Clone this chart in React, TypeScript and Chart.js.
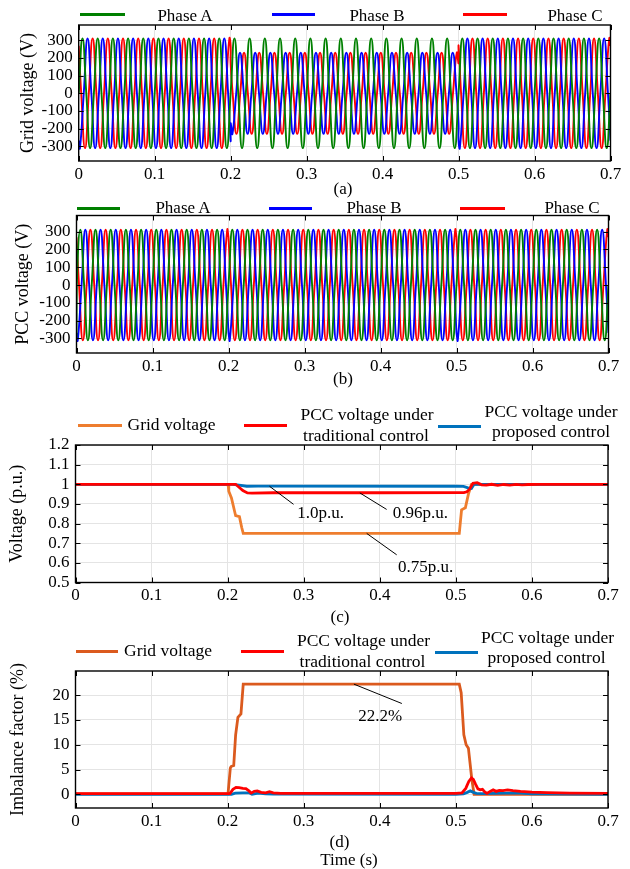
import React, { useEffect, useRef } from "react";
import { Chart, registerables } from "chart.js";
Chart.register(...registerables);

const FONT = '"Liberation Serif", "Times New Roman", Times, serif';

// ---------------- DATA ----------------
const timeTicks = [0, 0.1, 0.2, 0.3, 0.4, 0.5, 0.6, 0.7];
const voltageTicks = [-300, -200, -100, 0, 100, 200, 300];
const puTicks = [0.5, 0.6, 0.7, 0.8, 0.9, 1, 1.1, 1.2];
const imbalanceTicks = [0, 5, 10, 15, 20];

const phaseNames = ["Phase A", "Phase B", "Phase C"];

// waveforms: 50 Hz, three time segments (normal / sag / normal)
const fundamentalHz = 50;
const segmentBounds = [0, 0.2, 0.5, 0.7];
// grid voltage: peak (V), phase angle (deg) per segment, value at segment edges (V)
const gridPeakA = [311, 311, 311];
const gridPeakB = [311, 230, 311];
const gridPeakC = [311, 230, 311];
const gridAngleA = [0, 0, 0];
const gridAngleB = [-120, -132, -120];
const gridAngleC = [120, 132, 120];
const gridEdgeA = [0, 0, 0];
const gridEdgeB = [-269, -170, -269];
const gridEdgeC = [269, 170, 269];
// PCC voltage
const pccPeakA = [311, 311, 311];
const pccPeakB = [311, 311, 311];
const pccPeakC = [311, 311, 311];
const pccAngleA = [0, 0, 0];
const pccAngleB = [-120, -120, -120];
const pccAngleC = [120, 120, 120];
const pccEdgeA = [0, 0, 0];
const pccEdgeB = [-269, -269, -269];
const pccEdgeC = [269, 269, 269];
const pccStartA = -305; // start-up transient of phase A at t = 0

// (c) voltage (p.u.)
const gridPuT = [0, 0.2005, 0.2015, 0.205, 0.2105, 0.2155, 0.2185, 0.2205, 0.5045, 0.5075, 0.5125, 0.5165, 0.5205, 0.7];
const gridPuV = [1, 1, 0.965, 0.93, 0.84, 0.835, 0.78, 0.75, 0.75, 0.87, 0.88, 0.95, 1, 1];
const tradPuT = [0, 0.2105, 0.215, 0.22, 0.226, 0.232, 0.26, 0.4, 0.5105, 0.5145, 0.518, 0.5225, 0.528, 0.534, 0.54, 0.547, 0.555, 0.563, 0.571, 0.579, 0.587, 0.595, 0.61, 0.7];
const tradPuV = [1, 1, 0.985, 0.968, 0.956, 0.955, 0.957, 0.957, 0.958, 0.962, 0.975, 1.005, 1.008, 0.997, 0.996, 1.0, 0.995, 0.999, 0.996, 1.0, 0.997, 0.999, 1.0, 1.0];
const propPuT = [0, 0.207, 0.215, 0.225, 0.24, 0.5, 0.51, 0.516, 0.5205, 0.524, 0.53, 0.7];
const propPuV = [1, 1, 0.996, 0.99, 0.991, 0.99, 0.989, 0.982, 0.979, 1.0, 1.0, 1.0];

// (d) imbalance factor (%)
const gridUfT = [0, 0.2005, 0.2035, 0.2045, 0.208, 0.2105, 0.2135, 0.2175, 0.2205, 0.5045, 0.507, 0.5105, 0.5135, 0.5165, 0.521, 0.524, 0.7];
const gridUfV = [0.1, 0.1, 5.3, 5.6, 5.8, 12, 15.5, 16.2, 22.2, 22.2, 20.5, 12, 10, 9.3, 3, 0, 0];
const tradUfT = [0, 0.203, 0.207, 0.211, 0.215, 0.22, 0.224, 0.228, 0.231, 0.235, 0.239, 0.244, 0.25, 0.255, 0.26, 0.27, 0.5, 0.508, 0.513, 0.517, 0.5205, 0.523, 0.526, 0.529, 0.532, 0.535, 0.538, 0.541, 0.545, 0.549, 0.553, 0.557, 0.562, 0.568, 0.575, 0.585, 0.6, 0.62, 0.65, 0.7];
const tradUfV = [0.15, 0.15, 1.0, 1.4, 1.35, 1.2, 1.15, 0.7, 0.25, 0.6, 0.7, 0.4, 0.3, 0.55, 0.3, 0.2, 0.2, 0.3, 1.2, 2.6, 3.3, 3.0, 2.0, 1.1, 0.9, 1.0, 0.5, 0.2, 0.6, 0.9, 0.6, 0.8, 0.75, 0.9, 0.75, 0.6, 0.45, 0.35, 0.25, 0.2];
const propUfT = [0, 0.205, 0.21, 0.22, 0.228, 0.232, 0.24, 0.25, 0.26, 0.5, 0.51, 0.515, 0.519, 0.523, 0.527, 0.535, 0.55, 0.58, 0.6, 0.65, 0.7];
const propUfV = [0, 0, 0.25, 0.3, 0.3, 0, 0.25, 0.1, 0.05, 0, 0.1, 0.4, 0.7, 0.4, 0.2, 0.15, 0.2, 0.3, 0.1, 0.05, 0];

// ---------------- helpers ----------------
const GREEN = "#008000";
const BLUE = "#0000FF";
const RED = "#FF0000";
const ORANGE_C = "#EE7D2E";
const ORANGE_D = "#DB5A1E";
const MBLUE = "#0072BD";
const GRID = "#e4e4e4";

// peaks and zero crossings of each phase (quarter-cycle points), drawn as a smooth curve
function buildPhase(peaks: number[], angles: number[], edges: number[], lead?: number) {
  const pts: { x: number; y: number }[] = [];
  const degPerSec = 360 * fundamentalHz;
  const pattern = [0, 1, 0, -1];
  for (let i = 0; i < segmentBounds.length - 1; i++) {
    const t0 = segmentBounds[i];
    const t1 = segmentBounds[i + 1];
    if (i === 0 && lead !== undefined) {
      pts.push({ x: t0, y: lead });
      pts.push({ x: t0 + 0.0004, y: edges[i] });
    } else {
      pts.push({ x: i === 0 ? t0 : t0 + 1e-6, y: edges[i] });
    }
    const kStart = Math.ceil((t0 * degPerSec + angles[i]) / 90) - 1;
    for (let k = kStart; ; k++) {
      const t = (90 * k - angles[i]) / degPerSec;
      if (t >= t1 - 1e-6) break;
      if (t <= t0 + 1e-6) continue;
      if (i === 0 && lead !== undefined && t <= t0 + 0.0005) continue;
      pts.push({ x: t, y: peaks[i] * pattern[((k % 4) + 4) % 4] });
    }
    pts.push({ x: t1, y: edges[i] });
  }
  return pts;
}

function zip(t: number[], v: number[]) {
  return t.map((x, i) => ({ x, y: v[i] }));
}

type Annot = { x1: number; y1: number; x2: number; y2: number; text: string; tx: number; ty: number; align: CanvasTextAlign };

function makeBoxPlugin(annots: Annot[]) {
  return {
    id: "boxTicks",
    afterDatasetsDraw(chart: any) {
      const { ctx, chartArea } = chart;
      const { left, right, top, bottom } = chartArea;
      const xs = chart.scales.x;
      const ys = chart.scales.y;
      ctx.save();
      ctx.strokeStyle = "#000";
      ctx.lineWidth = 1.4;
      ctx.strokeRect(left, top, right - left, bottom - top);
      const L = 5;
      ctx.beginPath();
      xs.ticks.forEach((t: any) => {
        const px = Math.round(xs.getPixelForValue(t.value)) + 0.5;
        ctx.moveTo(px, bottom);
        ctx.lineTo(px, bottom - L);
        ctx.moveTo(px, top);
        ctx.lineTo(px, top + L);
      });
      ys.ticks.forEach((t: any) => {
        const py = Math.round(ys.getPixelForValue(t.value)) + 0.5;
        ctx.moveTo(left, py);
        ctx.lineTo(left + L, py);
        ctx.moveTo(right, py);
        ctx.lineTo(right - L, py);
      });
      ctx.lineWidth = 1;
      ctx.stroke();
      annots.forEach((a) => {
        ctx.beginPath();
        ctx.strokeStyle = "#000";
        ctx.lineWidth = 1;
        ctx.moveTo(xs.getPixelForValue(a.x1), ys.getPixelForValue(a.y1));
        ctx.lineTo(xs.getPixelForValue(a.x2), ys.getPixelForValue(a.y2));
        ctx.stroke();
        ctx.fillStyle = "#000";
        ctx.font = `17px ${FONT}`;
        ctx.textAlign = a.align;
        ctx.textBaseline = "middle";
        ctx.fillText(a.text, xs.getPixelForValue(a.tx), ys.getPixelForValue(a.ty));
      });
      ctx.restore();
    },
  };
}

const TOP_PAD = 20;
const XAXIS_H = 30;

type PanelSpec = {
  canvasTop: number;
  canvasH: number;
  plotLeft: number;
  plotRight: number;
  plotTop: number;
  plotBottom: number;
  yMin: number;
  yMax: number;
  yTicks: number[];
  yTitle: string;
  titleCenterX: number;
  datasets: any[];
  annots: Annot[];
};

function makeConfig(p: PanelSpec) {
  const padTop = p.plotTop - p.canvasTop;
  const padBottom = p.canvasTop + p.canvasH - p.plotBottom - XAXIS_H;
  const tickFont = { family: FONT, size: 17 };
  return {
    type: "line",
    data: { datasets: p.datasets },
    options: {
      responsive: false,
      animation: false,
      devicePixelRatio: 1,
      events: [],
      layout: { padding: { left: 0, right: 630 - p.plotRight, top: padTop, bottom: padBottom } },
      plugins: { legend: { display: false }, tooltip: { enabled: false } },
      elements: { point: { radius: 0 } },
      scales: {
        x: {
          type: "linear",
          min: 0,
          max: 0.7,
          afterBuildTicks: (s: any) => {
            s.ticks = timeTicks.map((v) => ({ value: v }));
          },
          afterFit: (s: any) => {
            s.height = XAXIS_H;
          },
          grid: { color: GRID, lineWidth: 1, drawTicks: false },
          border: { display: false },
          ticks: { font: tickFont, color: "#000", padding: 3, maxRotation: 0, autoSkip: false, callback: (v: any) => String(v) },
        },
        y: {
          type: "linear",
          min: p.yMin,
          max: p.yMax,
          afterBuildTicks: (s: any) => {
            s.ticks = p.yTicks.map((v) => ({ value: v }));
          },
          afterFit: (s: any) => {
            s.width = p.plotLeft;
          },
          grid: { color: GRID, lineWidth: 1, drawTicks: false },
          border: { display: false },
          ticks: { font: tickFont, color: "#000", padding: 6, autoSkip: false, callback: (v: any) => String(v) },
          title: {
            display: true,
            text: p.yTitle,
            color: "#000",
            font: { family: FONT, size: 18 },
            padding: { top: p.titleCenterX - 10.8, bottom: 0 },
          },
        },
      },
    },
    plugins: [makeBoxPlugin(p.annots)],
  };
}

function wave(data: any, color: string) {
  return { data, borderColor: color, borderWidth: 1.9, pointRadius: 0, tension: 0.5, fill: false };
}
function trace(data: any, color: string) {
  return { data, borderColor: color, borderWidth: 2.8, pointRadius: 0, tension: 0, fill: false };
}

const panelA: PanelSpec = {
  canvasTop: 5,
  canvasH: 186,
  plotLeft: 78.7,
  plotRight: 610.5,
  plotTop: 25,
  plotBottom: 161,
  yMin: -384,
  yMax: 387,
  yTicks: voltageTicks,
  yTitle: "Grid voltage (V)",
  titleCenterX: 28,
  datasets: [
    wave(buildPhase(gridPeakA, gridAngleA, gridEdgeA), GREEN),
    wave(buildPhase(gridPeakB, gridAngleB, gridEdgeB), BLUE),
    wave(buildPhase(gridPeakC, gridAngleC, gridEdgeC), RED),
  ],
  annots: [],
};

const panelB: PanelSpec = {
  canvasTop: 195,
  canvasH: 188,
  plotLeft: 76.5,
  plotRight: 608.5,
  plotTop: 215.5,
  plotBottom: 353,
  yMin: -382,
  yMax: 391,
  yTicks: voltageTicks,
  yTitle: "PCC voltage (V)",
  titleCenterX: 23,
  datasets: [
    wave(buildPhase(pccPeakA, pccAngleA, pccEdgeA, pccStartA), GREEN),
    wave(buildPhase(pccPeakB, pccAngleB, pccEdgeB), BLUE),
    wave(buildPhase(pccPeakC, pccAngleC, pccEdgeC), RED),
  ],
  annots: [],
};

const panelC: PanelSpec = {
  canvasTop: 425,
  canvasH: 188,
  plotLeft: 75.5,
  plotRight: 608,
  plotTop: 445,
  plotBottom: 582.5,
  yMin: 0.5,
  yMax: 1.2,
  yTicks: puTicks,
  yTitle: "Voltage (p.u.)",
  titleCenterX: 17.5,
  datasets: [
    trace(zip(tradPuT, tradPuV), RED),
    trace(zip(propPuT, propPuV), MBLUE),
    trace(zip(gridPuT, gridPuV), ORANGE_C),
  ],
  annots: [
    { x1: 0.255, y1: 0.99, x2: 0.2866, y2: 0.898, text: "1.0p.u.", tx: 0.2914, ty: 0.851, align: "left" },
    { x1: 0.3738, y1: 0.956, x2: 0.409, y2: 0.872, text: "0.96p.u.", tx: 0.417, ty: 0.851, align: "left" },
    { x1: 0.3828, y1: 0.75, x2: 0.4222, y2: 0.641, text: "0.75p.u.", tx: 0.4238, ty: 0.577, align: "left" },
  ],
};

const panelD: PanelSpec = {
  canvasTop: 651,
  canvasH: 187,
  plotLeft: 75.5,
  plotRight: 608,
  plotTop: 671,
  plotBottom: 808,
  yMin: -2.75,
  yMax: 24.85,
  yTicks: imbalanceTicks,
  yTitle: "Imbalance factor (%)",
  titleCenterX: 18.3,
  datasets: [
    trace(zip(tradUfT, tradUfV), RED),
    trace(zip(propUfT, propUfV), MBLUE),
    trace(zip(gridUfT, gridUfV), ORANGE_D),
  ],
  annots: [{ x1: 0.366, y1: 22.2, x2: 0.429, y2: 18.3, text: "22.2%", tx: 0.4006, ty: 15.6, align: "center" }],
};

function Panel({ spec }: { spec: PanelSpec }) {
  const ref = useRef<HTMLCanvasElement | null>(null);
  useEffect(() => {
    const chart = new Chart(ref.current as any, makeConfig(spec) as any);
    return () => chart.destroy();
  }, []);
  return (
    <canvas
      ref={ref}
      width={630}
      height={spec.canvasH}
      style={{ position: "absolute", left: 0, top: spec.canvasTop, width: 630, height: spec.canvasH }}
    />
  );
}

function Sample({ x1, x2, y, color }: { x1: number; x2: number; y: number; color: string }) {
  return <div style={{ position: "absolute", left: x1, top: y - 1.5, width: x2 - x1, height: 3, background: color }} />;
}

function Label({ x, y, text, size = 17.5 }: { x: number; y: number; text: string; size?: number }) {
  return (
    <div
      style={{
        position: "absolute",
        left: x,
        top: y,
        transform: "translate(-50%, -50%)",
        whiteSpace: "nowrap",
        fontFamily: FONT,
        fontSize: size,
        lineHeight: 1,
        color: "#000",
      }}
    >
      {text}
    </div>
  );
}

export default function App() {
  return (
    <div style={{ position: "absolute", left: 0, top: 0, width: 630, height: 869, overflow: "hidden", background: "#fff" }}>
      <Panel spec={panelA} />
      <Panel spec={panelB} />
      <Panel spec={panelC} />
      <Panel spec={panelD} />

      {/* legend (a) */}
      <Sample x1={80} x2={125} y={14.5} color={GREEN} />
      <Label x={185} y={14.5} text={phaseNames[0]} size={17} />
      <Sample x1={272} x2={315} y={14.5} color={BLUE} />
      <Label x={377} y={14.5} text={phaseNames[1]} size={17} />
      <Sample x1={463} x2={507} y={14.5} color={RED} />
      <Label x={575} y={14.5} text={phaseNames[2]} size={17} />
      <Label x={343} y={188} text="(a)" size={17} />

      {/* legend (b) */}
      <Sample x1={77} x2={120} y={208} color={GREEN} />
      <Label x={183} y={207} text={phaseNames[0]} size={17} />
      <Sample x1={269} x2={312} y={208} color={BLUE} />
      <Label x={374} y={207} text={phaseNames[1]} size={17} />
      <Sample x1={460} x2={505} y={208} color={RED} />
      <Label x={572} y={207} text={phaseNames[2]} size={17} />
      <Label x={343} y={378} text="(b)" size={17} />

      {/* legend (c) */}
      <Sample x1={78} x2={122} y={425} color={ORANGE_C} />
      <Label x={171.5} y={424.5} text="Grid voltage" />
      <Sample x1={243.5} x2={287} y={425} color={RED} />
      <Label x={367} y={415} text="PCC voltage under" />
      <Label x={366} y={436} text="traditional control" />
      <Sample x1={438} x2={481} y={426.3} color={MBLUE} />
      <Label x={551} y={411.7} text="PCC voltage under" />
      <Label x={551} y={432.3} text="proposed control" />
      <Label x={340} y={615.7} text="(c)" size={17} />

      {/* legend (d) */}
      <Sample x1={75.5} x2={118} y={651.7} color={ORANGE_D} />
      <Label x={168} y={651.2} text="Grid voltage" />
      <Sample x1={241} x2={284} y={651} color={RED} />
      <Label x={363.5} y={641} text="PCC voltage under" />
      <Label x={362.5} y={661.7} text="traditional control" />
      <Sample x1={435} x2={478} y={652.7} color={MBLUE} />
      <Label x={547.5} y={637.7} text="PCC voltage under" />
      <Label x={546.5} y={658.3} text="proposed control" />
      <Label x={339.5} y={841} text="(d)" size={17} />
      <Label x={349} y={859} text="Time (s)" size={17} />
    </div>
  );
}
